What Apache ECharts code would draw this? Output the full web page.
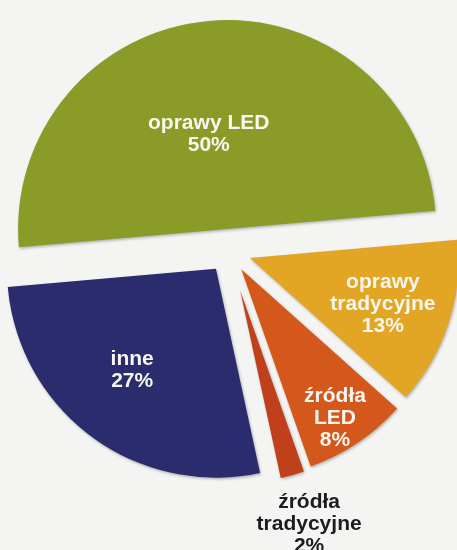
<!DOCTYPE html>
<html>
<head>
<meta charset="utf-8">
<script src="https://cdn.jsdelivr.net/npm/echarts@6/dist/echarts.min.js"></script>
<style>
html,body{margin:0;padding:0;background:#f4f4f2;}
#c{width:457px;height:550px;}
</style>
</head>
<body>
<div id="c"></div>
<script>
// Data
const categories = ['oprawy LED', 'oprawy tradycyjne', 'źródła LED', 'źródła tradycyjne', 'inne'];
const labelNames = ['oprawy LED', 'oprawy\ntradycyjne', 'źródła\nLED', 'źródła\ntradycyjne', 'inne'];
const shares = [50, 13, 8, 2, 27];

const colors = ['#8a9b28', '#e3a624', '#d4571b', '#c0401c', '#2b2c6e'];
// label nudges (px) relative to default inside position
const labelShift = [[-9, 12], [31, 12], [34, 60], [42, 138], [-20, 15]];
const detached = 3; // index of the slice pulled further out

const chart = echarts.init(document.getElementById('c'), null, {renderer: 'canvas'});

function buildData(visibleFn) {
  return categories.map((name, i) => {
    const vis = visibleFn(i);
    return {
      name: name,
      value: shares[i],
      selected: vis,
      itemStyle: vis ? {
        color: colors[i],
        shadowBlur: 3,
        shadowColor: 'rgba(0,0,0,0.28)',
        shadowOffsetX: 1,
        shadowOffsetY: 1.5
      } : {color: 'rgba(0,0,0,0)'},
      label: {
        show: vis,
        color: i === detached ? '#1c1c1c' : '#f7f7f0'
      }
    };
  });
}

const common = {
  type: 'pie',
  center: [229, 251],
  radius: [0, 209],
  startAngle: 185,
  clockwise: true,
  selectedMode: 'multiple',
  avoidLabelOverlap: false,
  animation: false,
  silent: true,
  emphasis: {disabled: true},
  label: {
    position: 'inside',
    fontFamily: 'Liberation Sans, Arial, sans-serif',
    fontWeight: 'bold',
    fontSize: 21,
    lineHeight: 22,
    align: 'center',
    formatter: p => labelNames[p.dataIndex] + '\n' + p.value + '%'
  },
  labelLine: {show: false},
  labelLayout: p => ({dx: labelShift[p.dataIndex][0], dy: labelShift[p.dataIndex][1]})
};

chart.setOption({
  backgroundColor: '#f4f4f2',
  series: [
    Object.assign({}, common, {
      selectedOffset: 22,
      data: buildData(i => i !== detached)
    }),
    Object.assign({}, common, {
      radius: [0, 192],
      selectedOffset: 41,
      data: buildData(i => i === detached)
    })
  ]
});
</script>
</body>
</html>
